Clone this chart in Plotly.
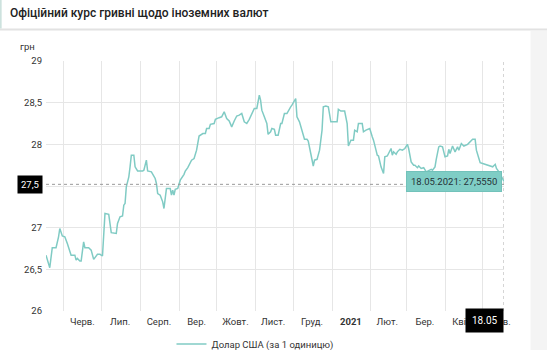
import plotly.graph_objects as go

# Official UAH / USD exchange rate, May 2020 - May 2021
dates = [
    "2020-05-18", "2020-05-21", "2020-05-23", "2020-05-26", "2020-05-28", "2020-05-29", "2020-05-31",
    "2020-06-02", "2020-06-04", "2020-06-06", "2020-06-07", "2020-06-10", "2020-06-11", "2020-06-12",
    "2020-06-14", "2020-06-15", "2020-06-17", "2020-06-18", "2020-06-21", "2020-06-23", "2020-06-25",
    "2020-06-28", "2020-06-30", "2020-07-02", "2020-07-04", "2020-07-07", "2020-07-09", "2020-07-13",
    "2020-07-14", "2020-07-16", "2020-07-18", "2020-07-19", "2020-07-20", "2020-07-21", "2020-07-23",
    "2020-07-24", "2020-07-25", "2020-07-27", "2020-07-28", "2020-07-30", "2020-08-03", "2020-08-04",
    "2020-08-06", "2020-08-07", "2020-08-10", "2020-08-13", "2020-08-14", "2020-08-15", "2020-08-17",
    "2020-08-19", "2020-08-20", "2020-08-22", "2020-08-25", "2020-08-26", "2020-08-27", "2020-08-28",
    "2020-08-29", "2020-08-31", "2020-09-02", "2020-09-05", "2020-09-06", "2020-09-08", "2020-09-11",
    "2020-09-13", "2020-09-15", "2020-09-17", "2020-09-20", "2020-09-22", "2020-09-23", "2020-09-25",
    "2020-09-26", "2020-09-29", "2020-09-30", "2020-10-03", "2020-10-05", "2020-10-07", "2020-10-09",
    "2020-10-11", "2020-10-13", "2020-10-15", "2020-10-17", "2020-10-19", "2020-10-21", "2020-10-23",
    "2020-10-25", "2020-10-27", "2020-10-30", "2020-10-31", "2020-11-02", "2020-11-04", "2020-11-05",
    "2020-11-06", "2020-11-08", "2020-11-10", "2020-11-11", "2020-11-13", "2020-11-14", "2020-11-16",
    "2020-11-17", "2020-11-19", "2020-11-21", "2020-11-22", "2020-11-24", "2020-11-26", "2020-11-29",
    "2020-11-30", "2020-12-03", "2020-12-04", "2020-12-06", "2020-12-08", "2020-12-10", "2020-12-12",
    "2020-12-13", "2020-12-15", "2020-12-17", "2020-12-18", "2020-12-20", "2020-12-22", "2020-12-24",
    "2020-12-25", "2020-12-27", "2020-12-29", "2020-12-31", "2021-01-03", "2021-01-05", "2021-01-06",
    "2021-01-08", "2021-01-11", "2021-01-13", "2021-01-14", "2021-01-16", "2021-01-18", "2021-01-19",
    "2021-01-21", "2021-01-22", "2021-01-25", "2021-01-26", "2021-01-28", "2021-01-30", "2021-01-31",
    "2021-02-02", "2021-02-03", "2021-02-05", "2021-02-06", "2021-02-07", "2021-02-09", "2021-02-11",
    "2021-02-12", "2021-02-14", "2021-02-15", "2021-02-17", "2021-02-18", "2021-02-19", "2021-02-21",
    "2021-02-22", "2021-02-24", "2021-02-26", "2021-02-28", "2021-03-02", "2021-03-03", "2021-03-05",
    "2021-03-07", "2021-03-08", "2021-03-10", "2021-03-11", "2021-03-13", "2021-03-15", "2021-03-17",
    "2021-03-19", "2021-03-21", "2021-03-22", "2021-03-24", "2021-03-25", "2021-03-27", "2021-03-28",
    "2021-03-30", "2021-04-01", "2021-04-03", "2021-04-04", "2021-04-05", "2021-04-07", "2021-04-09",
    "2021-04-11", "2021-04-12", "2021-04-14", "2021-04-16", "2021-04-19", "2021-04-21", "2021-04-23",
    "2021-04-25", "2021-04-26", "2021-04-28", "2021-04-29", "2021-05-01", "2021-05-03", "2021-05-05",
    "2021-05-07", "2021-05-09", "2021-05-11", "2021-05-12", "2021-05-14", "2021-05-18",
]
usd_rate = [
    26.67, 26.52, 26.76, 26.76, 26.89, 26.99, 26.90,
    26.89, 26.81, 26.73, 26.67, 26.67, 26.61, 26.63,
    26.60, 26.60, 26.83, 26.76, 26.76, 26.73, 26.62,
    26.68, 26.68, 26.66, 27.17, 27.16, 26.94, 26.93,
    27.05, 27.13, 27.14, 27.27, 27.29, 27.49, 27.61,
    27.73, 27.87, 27.87, 27.73, 27.68, 27.68, 27.69,
    27.81, 27.68, 27.67, 27.59, 27.53, 27.41, 27.39,
    27.31, 27.23, 27.47, 27.47, 27.39, 27.45, 27.39,
    27.46, 27.47, 27.57, 27.64, 27.68, 27.72, 27.81,
    27.83, 27.93, 28.10, 28.13, 28.13, 28.19, 28.19,
    28.24, 28.25, 28.30, 28.32, 28.33, 28.39, 28.31,
    28.28, 28.21, 28.28, 28.34, 28.35, 28.37, 28.27,
    28.25, 28.30, 28.40, 28.43, 28.43, 28.59, 28.53,
    28.41, 28.33, 28.25, 28.12, 28.15, 28.19, 28.18,
    28.11, 28.11, 28.25, 28.25, 28.37, 28.37, 28.45,
    28.47, 28.55, 28.33, 28.27, 28.17, 28.06, 28.06,
    28.04, 27.89, 27.74, 27.81, 27.82, 27.93, 28.17,
    28.45, 28.46, 28.45, 28.27, 28.27, 28.27, 28.42,
    28.40, 28.40, 28.25, 27.98, 28.05, 28.05, 28.17,
    28.15, 28.25, 28.25, 28.15, 28.17, 28.19, 28.19,
    28.09, 28.05, 27.93, 27.87, 27.86, 27.73, 27.65,
    27.85, 27.86, 27.89, 27.95, 27.87, 27.91, 27.88,
    27.91, 27.94, 27.93, 27.95, 28.00, 27.95, 27.79,
    27.75, 27.75, 27.72, 27.74, 27.71, 27.72, 27.67,
    27.69, 27.70, 27.69, 27.73, 27.82, 27.97, 27.98,
    27.97, 27.85, 27.86, 27.94, 27.89, 27.98, 27.91,
    27.97, 27.93, 28.01, 27.98, 28.00, 28.03, 28.06,
    28.06, 27.93, 27.83, 27.78, 27.77, 27.76, 27.75,
    27.74, 27.73, 27.76, 27.71, 27.67, 27.555,
]

series_name = "Долар США (за 1 одиницю)"
title_text = "Офіційний курс гривні щодо іноземних валют"
y_unit = "грн"

# Month labels sit in the middle of each month, grid lines at month starts
month_label_pos = [
    "2020-06-16", "2020-07-16", "2020-08-16", "2020-09-15", "2020-10-16", "2020-11-15",
    "2020-12-16", "2021-01-16", "2021-02-14", "2021-03-16", "2021-04-15", "2021-05-14",
]
month_labels = ["Черв.", "Лип.", "Серп.", "Вер.", "Жовт.", "Лист.",
                "Груд.", "<b>2021</b>", "Лют.", "Бер.", "Квіт.", "Трав."]
month_starts = [
    "2020-06-01", "2020-07-01", "2020-08-01", "2020-09-01", "2020-10-01", "2020-11-01",
    "2020-12-01", "2021-01-01", "2021-02-01", "2021-03-01", "2021-04-01", "2021-05-01",
]

x_range = ["2020-05-18", "2021-05-18"]
y_range = [26, 29]
crosshair_y = 27.52

LINE = "#80cbc4"
TEXT = "#333333"
GRID = "#e6e6e6"
FONT = "Roboto"
FS = 9.5

fig = go.Figure()
fig.add_trace(go.Scatter(
    x=dates, y=usd_rate, mode="lines", name=series_name,
    line=dict(color=LINE, width=1.5), showlegend=True,
))

# hovered point: last date and its value
last_date = dates[-1]
last_val = usd_rate[-1]
yyyy, mm, dd = last_date.split("-")
tip_text = f"{dd}.{mm}.{yyyy}: " + f"{last_val:.4f}".replace(".", ",")
axis_tag = f"{dd}.{mm}"
y_tag = f"{round(crosshair_y, 1)}".replace(".", ",")

shapes = [
    # header separator and accents
    dict(type="line", xref="paper", yref="paper", x0=-0.11, x1=1.11, y0=1.126, y1=1.126,
         line=dict(color="#e2e2e2", width=2), layer="above"),
    dict(type="line", xref="paper", yref="paper", x0=-0.099, x1=-0.099, y0=1.13, y1=1.25,
         line=dict(color="#cde2de", width=2)),
    dict(type="rect", xref="paper", yref="paper", x0=1.058, x1=1.12, y0=-0.2, y1=1.12,
         fillcolor="#f4f4f4", line=dict(width=0), layer="below"),
    # crosshair
    dict(type="line", xref="x", yref="paper", x0=last_date, x1=last_date, y0=0, y1=1,
         line=dict(color="#aaaaaa", width=1, dash="dot")),
    dict(type="line", xref="paper", yref="y", x0=0, x1=1, y0=crosshair_y, y1=crosshair_y,
         line=dict(color="#999999", width=1, dash="dot")),
]

annotations = [
    dict(text=y_unit, xref="paper", yref="paper", x=0, y=1, xanchor="right", yanchor="bottom",
         xshift=-9, yshift=7, showarrow=False, font=dict(family=FONT, size=FS, color=TEXT)),
    dict(text=tip_text, xref="x", yref="y", x=last_date, y=last_val, xanchor="right",
         yanchor="middle", xshift=-2, showarrow=False, bgcolor="#7fcdc5", bordercolor="#72c2ba",
         borderwidth=1, borderpad=4, font=dict(family=FONT, size=FS, color="#263238")),
    dict(text=axis_tag, xref="x", yref="paper", x=last_date, y=0, xanchor="right",
         yanchor="top", yshift=3, showarrow=False, bgcolor="#000000", borderpad=6,
         font=dict(family=FONT, size=FS + 0.5, color="#ffffff")),
    dict(text=y_tag, xref="paper", yref="y", x=0, y=crosshair_y, xanchor="right",
         yanchor="middle", xshift=-3, showarrow=False, bgcolor="#000000", borderpad=3,
         font=dict(family=FONT, size=FS, color="#ffffff")),
]

fig.update_layout(
    width=547, height=350,
    margin=dict(l=46, r=43, t=61, b=39, autoexpand=False),
    paper_bgcolor="#ffffff", plot_bgcolor="#ffffff",
    separators=",.",
    font=dict(family=FONT, size=FS, color=TEXT),
    title=dict(text=title_text, x=10 / 547, xanchor="left", y=1 - 13 / 350, yanchor="middle",
               yref="container", font=dict(family=FONT, size=12, color="#212121", weight=500)),
    xaxis=dict(
        type="date", range=x_range, tickmode="array", tickvals=month_label_pos,
        ticktext=month_labels, showgrid=False, showline=False, zeroline=False, ticks="",
        tickfont=dict(family=FONT, size=FS, color=TEXT), automargin=False,
        ticklabelstandoff=3,
        minor=dict(tickmode="array", tickvals=month_starts, showgrid=True,
                   gridcolor=GRID, gridwidth=1, ticks=""),
    ),
    yaxis=dict(
        range=y_range, tick0=26, dtick=0.5, showgrid=True, gridcolor=GRID, gridwidth=1,
        zeroline=False, showline=False, ticks="", automargin=False,
        tickfont=dict(family=FONT, size=FS, color=TEXT), ticklabelstandoff=3,
    ),
    legend=dict(orientation="h", x=0.274, xanchor="left", y=1 - 344 / 350, yanchor="middle",
                yref="container", font=dict(family=FONT, size=FS, color=TEXT),
                bgcolor="rgba(0,0,0,0)"),
    shapes=shapes,
    annotations=annotations,
    hovermode=False,
)

fig.write_html("out.html")
